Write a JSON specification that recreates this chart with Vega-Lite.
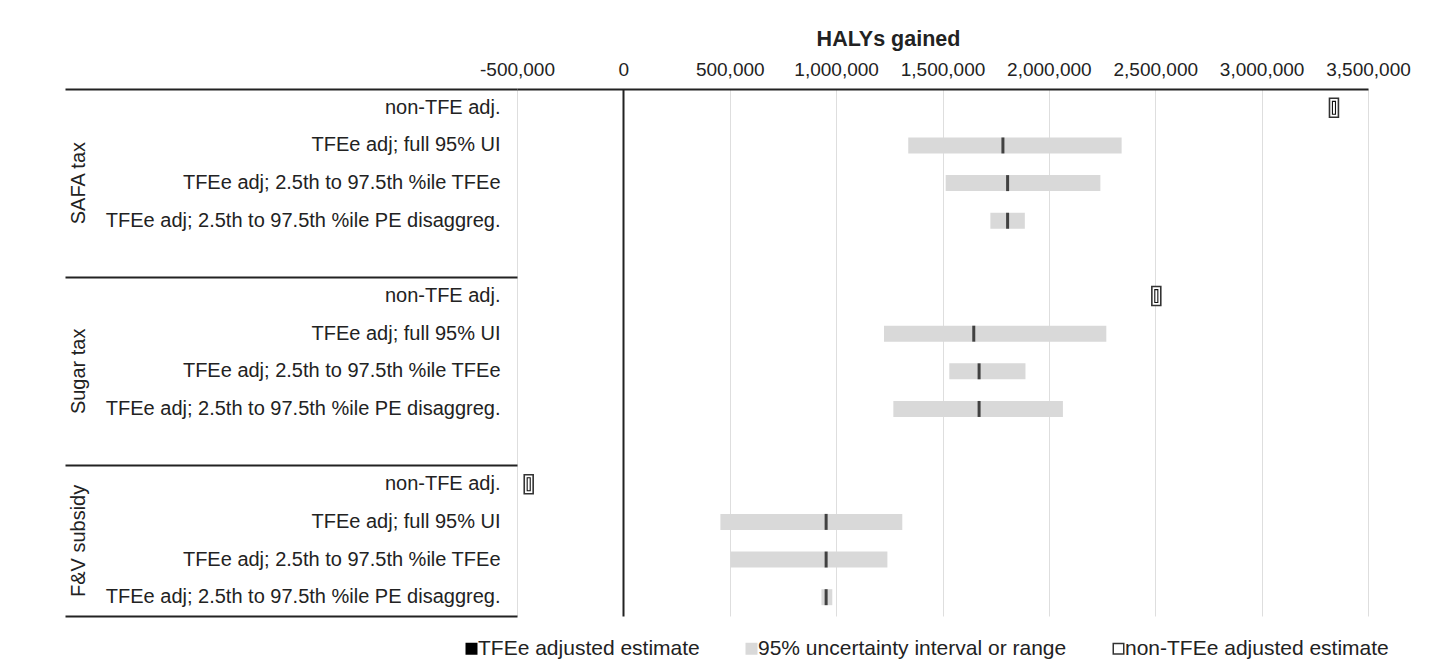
{
  "$schema": "https://vega.github.io/schema/vega-lite/v6.json",
  "width": 851,
  "height": 527,
  "autosize": {"type": "none"},
  "padding": {"left": 517, "top": 89, "right": 62, "bottom": 54},
  "background": "white",
  "config": {
    "font": "Liberation Sans",
    "view": {"stroke": null},
    "axis": {"labelColor": "#222222", "titleColor": "#222222"},
    "axisX": {
      "labelFontSize": 19, "labelPadding": 10, "ticks": false, "labelOverlap": false, "labelBound": false, "labelFlush": false,
      "domainColor": "#222222", "domainWidth": 2,
      "grid": true,
      "gridColor": {"condition": {"test": "datum.value === 0", "value": "#222222"}, "value": "#dedede"},
      "gridWidth": {"condition": {"test": "datum.value === 0", "value": 2}, "value": 1},
      "titleFontSize": 21.5, "titleFontWeight": "bold", "titlePadding": 10, "titleX": 371
    }
  },
  "data": {
    "values": [
      {"key": "SAFA tax|non-TFE adj.", "kind": "non-TFEe", "estimate": 3340000, "lower": null, "upper": null},
      {"key": "SAFA tax|TFEe adj; full 95% UI", "kind": "TFEe", "estimate": 1784000, "lower": 1339000, "upper": 2342000},
      {"key": "SAFA tax|TFEe adj; 2.5th to 97.5th %ile TFEe", "kind": "TFEe", "estimate": 1806000, "lower": 1515000, "upper": 2242000},
      {"key": "SAFA tax|TFEe adj; 2.5th to 97.5th %ile PE disaggreg.", "kind": "TFEe", "estimate": 1806000, "lower": 1725000, "upper": 1887000},
      {"key": "Sugar tax|non-TFE adj.", "kind": "non-TFEe", "estimate": 2505000, "lower": null, "upper": null},
      {"key": "Sugar tax|TFEe adj; full 95% UI", "kind": "TFEe", "estimate": 1647000, "lower": 1225000, "upper": 2270000},
      {"key": "Sugar tax|TFEe adj; 2.5th to 97.5th %ile TFEe", "kind": "TFEe", "estimate": 1672000, "lower": 1532000, "upper": 1890000},
      {"key": "Sugar tax|TFEe adj; 2.5th to 97.5th %ile PE disaggreg.", "kind": "TFEe", "estimate": 1672000, "lower": 1269000, "upper": 2066000},
      {"key": "F&V subsidy|non-TFE adj.", "kind": "non-TFEe", "estimate": -445000, "lower": null, "upper": null},
      {"key": "F&V subsidy|TFEe adj; full 95% UI", "kind": "TFEe", "estimate": 953000, "lower": 456000, "upper": 1311000},
      {"key": "F&V subsidy|TFEe adj; 2.5th to 97.5th %ile TFEe", "kind": "TFEe", "estimate": 953000, "lower": 503000, "upper": 1241000},
      {"key": "F&V subsidy|TFEe adj; 2.5th to 97.5th %ile PE disaggreg.", "kind": "TFEe", "estimate": 953000, "lower": 931000, "upper": 982000}
    ]
  },
  "layer": [
    {
      "transform": [{"filter": "datum.kind === 'TFEe'"}],
      "mark": {"type": "bar", "size": 16, "strokeWidth": 0},
      "encoding": {
        "y": {
          "field": "key", "type": "nominal", "title": null,
          "scale": {"domain": [
            "SAFA tax|non-TFE adj.", "SAFA tax|TFEe adj; full 95% UI", "SAFA tax|TFEe adj; 2.5th to 97.5th %ile TFEe", "SAFA tax|TFEe adj; 2.5th to 97.5th %ile PE disaggreg.", "SAFA tax|",
            "Sugar tax|non-TFE adj.", "Sugar tax|TFEe adj; full 95% UI", "Sugar tax|TFEe adj; 2.5th to 97.5th %ile TFEe", "Sugar tax|TFEe adj; 2.5th to 97.5th %ile PE disaggreg.", "Sugar tax|",
            "F&V subsidy|non-TFE adj.", "F&V subsidy|TFEe adj; full 95% UI", "F&V subsidy|TFEe adj; 2.5th to 97.5th %ile TFEe", "F&V subsidy|TFEe adj; 2.5th to 97.5th %ile PE disaggreg."
          ], "paddingInner": 0, "paddingOuter": 0},
          "axis": {"orient": "left", "labelExpr": "split(datum.label, '|')[1]", "labelFontSize": 20, "labelPadding": 17, "labelLimit": 0, "ticks": false, "domain": false, "grid": false}
        },
        "x": {
          "field": "lower", "type": "quantitative", "title": "HALYs gained",
          "scale": {"domain": [-500000, 3500000], "nice": false, "zero": false},
          "axis": {"orient": "top", "values": [-500000, 0, 500000, 1000000, 1500000, 2000000, 2500000, 3000000, 3500000], "labelExpr": "(datum.value < 0 ? '-' : '') + format(abs(datum.value), ',')"}
        },
        "x2": {"field": "upper"},
        "fill": {
          "datum": "95% uncertainty interval or range", "type": "nominal",
          "scale": {"domain": ["TFEe adjusted estimate", "95% uncertainty interval or range", "non-TFEe adjusted estimate"], "range": ["#000000", "#d9d9d9", "#ffffff"]},
          "legend": {"title": null, "orient": "none", "legendX": -56, "legendY": 549, "direction": "horizontal", "columns": 3, "columnPadding": 41, "labelFontSize": 21, "labelColor": "#222222", "labelLimit": 0, "labelOffset": -4, "symbolType": "square", "symbolSize": 110, "symbolStrokeWidth": 1.5}
        },
        "stroke": {
          "datum": "95% uncertainty interval or range", "type": "nominal",
          "scale": {"domain": ["TFEe adjusted estimate", "95% uncertainty interval or range", "non-TFEe adjusted estimate"], "range": ["#000000", "#d9d9d9", "#333333"]},
          "legend": {"title": null, "orient": "none", "legendX": -56, "legendY": 549, "direction": "horizontal", "columns": 3, "columnPadding": 41, "labelFontSize": 21, "labelColor": "#222222", "labelLimit": 0, "labelOffset": -4, "symbolType": "square", "symbolSize": 110, "symbolStrokeWidth": 1.5}
        }
      }
    },
    {
      "transform": [{"filter": "datum.kind === 'TFEe'"}],
      "mark": {"type": "tick", "thickness": 3, "size": 16, "strokeWidth": 0},
      "encoding": {
        "y": {
          "field": "key", "type": "nominal", "title": null,
          "axis": {"orient": "left", "values": ["SAFA tax|TFEe adj; 2.5th to 97.5th %ile TFEe", "Sugar tax|TFEe adj; 2.5th to 97.5th %ile TFEe"], "labelExpr": "split(datum.label, '|')[0]", "labelAngle": -90, "labelAlign": "center", "labelBaseline": "bottom", "labelFontSize": 20, "offset": 427, "labelPadding": 2, "ticks": false, "domain": false, "grid": false}
        },
        "x": {
          "field": "estimate", "type": "quantitative", "title": "HALYs gained",
          "axis": {"orient": "top", "values": [-500000, 0, 500000, 1000000, 1500000, 2000000, 2500000, 3000000, 3500000], "labelExpr": "(datum.value < 0 ? '-' : '') + format(abs(datum.value), ',')"}
        },
        "fill": {"datum": "TFEe adjusted estimate", "type": "nominal"},
        "stroke": {"datum": "TFEe adjusted estimate", "type": "nominal"}
      }
    },
    {
      "transform": [{"filter": "datum.kind === 'non-TFEe'"}],
      "mark": {"type": "point", "shape": "M-0.47,-1H0.47V1H-0.47Z", "size": 361, "strokeWidth": 1.6, "opacity": 1},
      "encoding": {
        "y": {
          "field": "key", "type": "nominal", "title": null,
          "axis": {"orient": "left", "values": ["F&V subsidy|TFEe adj; full 95% UI"], "labelOffset": 19, "labelExpr": "split(datum.label, '|')[0]", "labelAngle": -90, "labelAlign": "center", "labelBaseline": "bottom", "labelFontSize": 20, "offset": 427, "labelPadding": 2, "ticks": false, "domain": false, "grid": false}
        },
        "x": {
          "field": "estimate", "type": "quantitative", "title": "HALYs gained",
          "axis": {"orient": "top", "values": [-500000, 0, 500000, 1000000, 1500000, 2000000, 2500000, 3000000, 3500000], "labelExpr": "(datum.value < 0 ? '-' : '') + format(abs(datum.value), ',')"}
        },
        "fill": {"datum": "non-TFEe adjusted estimate", "type": "nominal"},
        "stroke": {"datum": "non-TFEe adjusted estimate", "type": "nominal"}
      }
    },
    {
      "transform": [{"filter": "datum.kind === 'non-TFEe'"}],
      "mark": {"type": "point", "shape": "M-0.16,-0.68H0.16V0.68H-0.16Z", "size": 361, "stroke": "#111111", "strokeWidth": 1.1, "fill": "#ffffff", "opacity": 1},
      "encoding": {
        "y": {
          "field": "key", "type": "nominal", "title": null,
          "axis": {"orient": "left", "values": ["SAFA tax|", "Sugar tax|", "F&V subsidy|TFEe adj; 2.5th to 97.5th %ile PE disaggreg."], "bandPosition": 1, "labels": false, "ticks": true, "tickSize": 452, "tickColor": "#222222", "tickWidth": 2, "domain": false, "grid": false, "offset": 0}
        },
        "x": {
          "field": "estimate", "type": "quantitative", "title": "HALYs gained",
          "axis": {"orient": "top", "values": [-500000, 0, 500000, 1000000, 1500000, 2000000, 2500000, 3000000, 3500000], "labelExpr": "(datum.value < 0 ? '-' : '') + format(abs(datum.value), ',')"}
        }
      }
    },
    {
      "transform": [{"filter": "datum.kind === 'non-TFEe'"}],
      "mark": {"type": "point", "opacity": 0},
      "encoding": {
        "y": {
          "field": "key", "type": "nominal", "title": null,
          "axis": {"orient": "left", "values": ["SAFA tax|non-TFE adj."], "bandPosition": 0, "labels": false, "ticks": true, "tickSize": 452, "tickColor": "#222222", "tickWidth": 2, "domain": false, "grid": false, "offset": 0}
        },
        "x": {
          "field": "estimate", "type": "quantitative", "title": "HALYs gained",
          "axis": {"orient": "top", "values": [-500000, 0, 500000, 1000000, 1500000, 2000000, 2500000, 3000000, 3500000], "labelExpr": "(datum.value < 0 ? '-' : '') + format(abs(datum.value), ',')"}
        }
      }
    }
  ],
  "resolve": {"axis": {"y": "independent"}}
}
